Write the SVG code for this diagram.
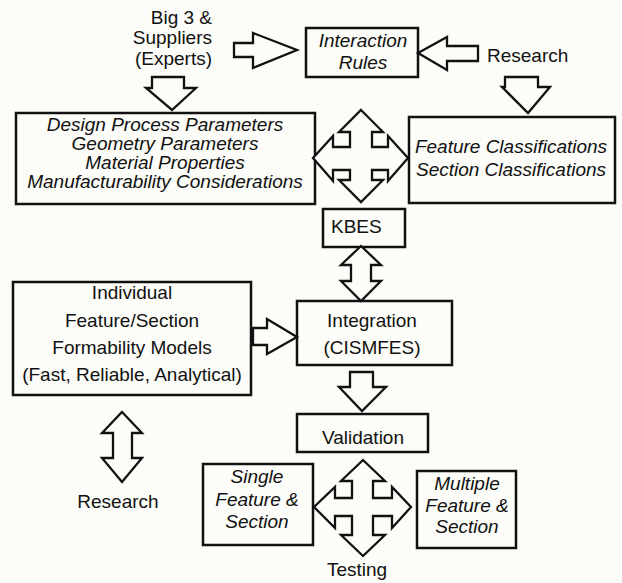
<svg xmlns="http://www.w3.org/2000/svg" width="622" height="583" viewBox="0 0 622 583">
  <style>
    .box { fill: #fcfcf8; stroke: #111; stroke-width: 2.5; }
    .arrow { fill: #fcfcf8; stroke: #111; stroke-width: 2.3; stroke-linejoin: miter; }
    text { font-family: "Liberation Sans", Arial, Helvetica, sans-serif; font-size: 19px; fill: #111; }
    .it { font-style: italic; }
    .c { text-anchor: middle; }
  </style>
  <rect x="0" y="0" width="622" height="583" fill="#fcfcf8"/>

  <!-- labels without boxes -->
  <g id="experts">
    <text x="212" y="24" text-anchor="end">Big 3 &amp;</text>
    <text x="212" y="43.5" text-anchor="end">Suppliers</text>
    <text x="212" y="64.5" text-anchor="end">(Experts)</text>
  </g>
  <g id="research-top">
    <text x="487" y="62">Research</text>
  </g>
  <g id="research-left">
    <text class="c" x="118" y="508">Research</text>
  </g>
  <g id="testing">
    <text class="c" x="357" y="576">Testing</text>
  </g>

  <!-- boxed nodes -->
  <g id="interaction-rules">
    <rect class="box" x="306" y="28" width="112" height="49"/>
    <text class="c it" x="363" y="47">Interaction</text>
    <text class="c it" x="363" y="69">Rules</text>
  </g>
  <g id="parameters">
    <rect class="box" x="16" y="113" width="299" height="91"/>
    <text class="c it" x="165" y="131">Design Process Parameters</text>
    <text class="c it" x="165" y="150">Geometry Parameters</text>
    <text class="c it" x="165" y="169">Material Properties</text>
    <text class="c it" x="165" y="188">Manufacturability Considerations</text>
  </g>
  <g id="classifications">
    <rect class="box" x="409" y="117" width="206" height="86"/>
    <text class="c it" x="511" y="153">Feature Classifications</text>
    <text class="c it" x="511" y="176">Section Classifications</text>
  </g>
  <g id="kbes">
    <rect class="box" x="323" y="209" width="82" height="38"/>
    <text x="331" y="233">KBES</text>
  </g>
  <g id="formability-models">
    <rect class="box" x="13" y="282" width="238" height="113"/>
    <text class="c" x="132" y="299">Individual</text>
    <text class="c" x="132" y="327">Feature/Section</text>
    <text class="c" x="132" y="354">Formability Models</text>
    <text class="c" x="132" y="381">(Fast, Reliable, Analytical)</text>
  </g>
  <g id="integration">
    <rect class="box" x="297" y="301" width="155" height="64"/>
    <text class="c" x="372" y="327">Integration</text>
    <text class="c" x="372" y="354">(CISMFES)</text>
  </g>
  <g id="validation">
    <rect class="box" x="297" y="414" width="131" height="38"/>
    <text class="c" x="363" y="444">Validation</text>
  </g>
  <g id="single-feature">
    <rect class="box" x="203" y="464" width="110" height="81"/>
    <text class="c it" x="257" y="483">Single</text>
    <text class="c it" x="257" y="506">Feature &amp;</text>
    <text class="c it" x="257" y="528">Section</text>
  </g>
  <g id="multiple-feature">
    <rect class="box" x="417" y="471" width="99" height="77"/>
    <text class="c it" x="467" y="490">Multiple</text>
    <text class="c it" x="467" y="512">Feature &amp;</text>
    <text class="c it" x="467" y="533">Section</text>
  </g>

  <!-- block arrows -->
  <g id="connectors">
    <path class="arrow" d="M234,43 H253 V33 L297,50 L253,68 V57 H234 Z"/>
    <path class="arrow" d="M478,46 H447 V37 L418,53 L447,70 V61 H478 Z"/>
    <path class="arrow" d="M152,77 H184 V88 H196 L172,110 L146,88 H152 Z"/>
    <path class="arrow" d="M505,77 H538 V87 H550 L528,113 L502,87 H505 Z"/>
    <path class="arrow" d="M361,110 L383,132 H372 V147 H388 V136 L408,158 L388,181 V170 H372 V180 H383 L361,202 L339,180 H350 V170 H333 V181 L313,158 L333,136 V147 H350 V132 H339 Z"/>
    <path class="arrow" d="M361,246 L381,265 H371 V281 H381 L361,301 L341,281 H351 V265 H341 Z"/>
    <path class="arrow" d="M253,328 H267 V319 L297,337 L267,354 V345 H253 Z"/>
    <path class="arrow" d="M350,372 H373 V387 H386 L362,411 L339,387 H350 Z"/>
    <path class="arrow" d="M363,460 L385,481 H373 V498 H392 V487 L411,507 L392,528 V516 H373 V535 H385 L363,556 L341,535 H352 V516 H335 V528 L314,507 L335,487 V498 H352 V481 H341 Z"/>
    <path class="arrow" d="M122,412 L142,433 H132 V458 H142 L122,482 L102,458 H113 V433 H102 Z"/>
  </g>
</svg>
